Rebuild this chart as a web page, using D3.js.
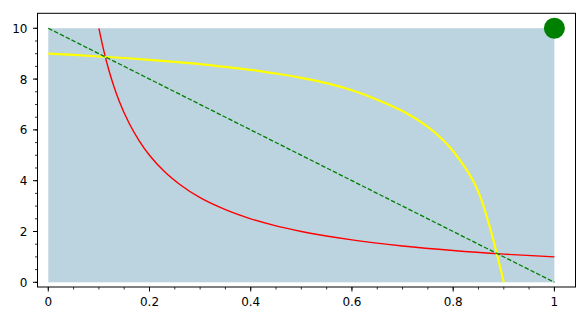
<!DOCTYPE html>
<html><head><meta charset="utf-8">
<script src="https://cdn.jsdelivr.net/npm/d3@7"></script>
<style>body{margin:0;background:#fff}svg{display:block}text{font-family:"DejaVu Sans",sans-serif;font-size:12px;fill:#000}</style>
</head><body>
<script>
// Data
const xTicks = [0, 0.2, 0.4, 0.6, 0.8, 1];
const xTickLabels = ["0", "0.2", "0.4", "0.6", "0.8", "1"];
const yTicks = [0, 2, 4, 6, 8, 10];
const yTickLabels = ["0", "2", "4", "6", "8", "10"];
const xMinor = d3.range(0, 1.0001, 0.05);
const yMinor = d3.range(0, 10.0001, 0.5);
const xLim = [-0.0213, 1.0417];
const yLim = [-0.185, 10.59];
const regionX = [0, 1];
const regionY = [0, 10];
const redX = [0.1, 0.11, 0.12, 0.13, 0.14, 0.16, 0.18, 0.2, 0.23, 0.26, 0.3, 0.35, 0.4, 0.45, 0.5, 0.6, 0.7, 0.8, 0.9, 1.0];
const redY = [10, 9.09, 8.33, 7.69, 7.14, 6.25, 5.56, 5.0, 4.35, 3.85, 3.33, 2.86, 2.5, 2.22, 2.0, 1.67, 1.43, 1.25, 1.11, 1.0];
const yellowX = [0, 0.05, 0.1, 0.15, 0.2, 0.25, 0.3, 0.35, 0.4, 0.45, 0.5, 0.55, 0.6, 0.65, 0.7, 0.75, 0.78, 0.8, 0.82, 0.83, 0.84, 0.85, 0.86, 0.87, 0.88, 0.89, 0.9];
const yellowY = [9.0, 8.95, 8.89, 8.83, 8.76, 8.68, 8.59, 8.48, 8.36, 8.22, 8.05, 7.84, 7.56, 7.19, 6.74, 6.12, 5.6, 5.16, 4.62, 4.32, 3.98, 3.55, 3.0, 2.35, 1.62, 0.83, 0];
const greenX = [0, 1];
const greenY = [10, 0];
const dotX = [1];
const dotY = [10];

const W = 588, H = 321;
const L = 37.5, R = 575.5, T = 13.3, B = 287;
const svg = d3.select("body").append("svg").attr("width", W).attr("height", H);
const x = d3.scaleLinear().domain(xLim).range([L, R]);
const y = d3.scaleLinear().domain(yLim).range([B, T]);

svg.append("clipPath").attr("id", "c").append("rect")
  .attr("x", L).attr("y", T).attr("width", R - L).attr("height", B - T);

const g = svg.append("g").attr("clip-path", "url(#c)");
g.append("rect")
  .attr("x", x(regionX[0])).attr("y", y(regionY[1]))
  .attr("width", x(regionX[1]) - x(regionX[0]))
  .attr("height", y(regionY[0]) - y(regionY[1]))
  .attr("fill", "#bcd3e0");

g.append("path").datum(redX.map((v, i) => [v, redY[i]]))
  .attr("d", d3.line().x(d => x(d[0])).y(d => y(d[1])).curve(d3.curveMonotoneX)).attr("fill", "none")
  .attr("stroke", "#ff0000").attr("stroke-width", 1.4);
g.append("path").datum(yellowX.map((v, i) => [v, yellowY[i]]))
  .attr("d", d3.line().x(d => x(d[0])).y(d => y(d[1])).curve(d3.curveCatmullRom.alpha(0.5))).attr("fill", "none")
  .attr("stroke", "#ffff00").attr("stroke-width", 2.2);
g.append("path").datum(greenX.map((v, i) => [v, greenY[i]]))
  .attr("d", d3.line().x(d => x(d[0])).y(d => y(d[1]))).attr("fill", "none")
  .attr("stroke", "#008000").attr("stroke-width", 1.3).attr("stroke-dasharray", "4.5,2");
svg.selectAll("circle.dot").data(dotX.map((v, i) => [v, dotY[i]])).enter().append("circle")
  .attr("class", "dot").attr("cx", d => x(d[0])).attr("cy", d => y(d[1])).attr("r", 10.5)
  .attr("fill", "#008000");

// frame
svg.append("rect").attr("x", L).attr("y", T).attr("width", R - L).attr("height", B - T)
  .attr("fill", "none").attr("stroke", "#000").attr("stroke-width", 1);

// x axis ticks
const xa = svg.append("g");
xa.selectAll("line.mn").data(xMinor).enter().append("line")
  .attr("x1", d => x(d)).attr("x2", d => x(d)).attr("y1", B).attr("y2", B + 2.5)
  .attr("stroke", "#000").attr("stroke-width", 0.8);
xa.selectAll("line.mj").data(xTicks).enter().append("line")
  .attr("x1", d => x(d)).attr("x2", d => x(d)).attr("y1", B).attr("y2", B + 4.5)
  .attr("stroke", "#000").attr("stroke-width", 1);
xa.selectAll("text").data(xTicks).enter().append("text")
  .attr("x", d => x(d)).attr("y", 306).attr("text-anchor", "middle")
  .text((d, i) => xTickLabels[i]);

// y axis ticks
const ya = svg.append("g");
ya.selectAll("line.mn").data(yMinor).enter().append("line")
  .attr("y1", d => y(d)).attr("y2", d => y(d)).attr("x1", L).attr("x2", L - 2.5)
  .attr("stroke", "#000").attr("stroke-width", 0.8);
ya.selectAll("line.mj").data(yTicks).enter().append("line")
  .attr("y1", d => y(d)).attr("y2", d => y(d)).attr("x1", L).attr("x2", L - 4.5)
  .attr("stroke", "#000").attr("stroke-width", 1);
ya.selectAll("text").data(yTicks).enter().append("text")
  .attr("x", 27.5).attr("y", d => y(d) + 4.5).attr("text-anchor", "end")
  .text((d, i) => yTickLabels[i]);
</script>
</body></html>
